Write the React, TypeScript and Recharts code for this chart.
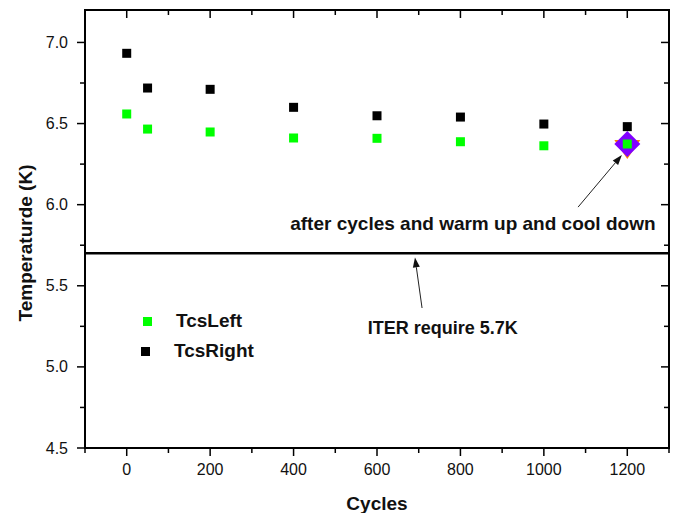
import React from "react";
import {
  ScatterChart, Scatter, XAxis, YAxis, ReferenceLine, ReferenceDot, ReferenceArea, Label
} from "recharts";

// cycles at which the temperatures were measured
const cycles = [0, 50, 200, 400, 600, 800, 1000, 1200];
const tcsLeft = [6.559, 6.466, 6.448, 6.411, 6.409, 6.388, 6.363, 6.374];
const tcsRight = [6.933, 6.719, 6.711, 6.6, 6.548, 6.54, 6.497, 6.481];

// measurement after warm up / cool down
const warmCycles = [1200];
const warmValues = [6.374];

const iterLimit = 5.7;

const xTicks = [-100, 0, 100, 200, 300, 400, 500, 600, 700, 800, 900, 1000, 1100, 1200, 1300];
const xLabels = [0, 200, 400, 600, 800, 1000, 1200];
const yTicks = [4.5, 4.75, 5.0, 5.25, 5.5, 5.75, 6.0, 6.25, 6.5, 6.75, 7.0];
const yLabels = [4.5, 5.0, 5.5, 6.0, 6.5, 7.0];

// annotation arrows: [tail, head] in data units
const arrowWarm = [{ x: 1082, y: 5.985 }, { x: 1187, y: 6.306 }];
const arrowIter = [{ x: 708, y: 5.363 }, { x: 691, y: 5.675 }];

const noteWarm = { x: 392, y: 5.881, text: "after cycles and warm up and cool down" };
const noteIter = { x: 578, y: 5.239, text: "ITER require 5.7K" };

const W = 676;
const H = 513;
const L = 85;
const T = 10;
const R = 669;
const B = 448;
const FONT = "Arial, 'Liberation Sans', sans-serif";

const leftData = cycles.map((c, i) => ({ x: c, y: tcsLeft[i] }));
const rightData = cycles.map((c, i) => ({ x: c, y: tcsRight[i] }));
const warmData = warmCycles.map((c, i) => ({ x: c, y: warmValues[i] }));

const Square = (color: string) => (p: any) => (
  <rect x={p.cx - 4.5} y={p.cy - 4.5} width={9} height={9} fill={color} />
);

const WarmMark = (p: any) => {
  const { cx, cy } = p;
  return (
    <g>
      <polygon points={`${cx - 13},${cy - 4} ${cx + 13},${cy - 4} ${cx},${cy + 15}`} fill="#ff8000" />
      <polygon points={`${cx},${cy - 13} ${cx + 13},${cy} ${cx},${cy + 13} ${cx - 13},${cy}`} fill="#8000ff" />
    </g>
  );
};

const Arrow = (p: any) => {
  const { x1, y1, x2, y2 } = p;
  const a = Math.atan2(y2 - y1, x2 - x1);
  const len = 10;
  const hw = 3.5;
  const bx = x2 - len * Math.cos(a);
  const by = y2 - len * Math.sin(a);
  const px = -Math.sin(a) * hw;
  const py = Math.cos(a) * hw;
  return (
    <g>
      <line x1={x1} y1={y1} x2={bx} y2={by} stroke="#222" strokeWidth={1} />
      <polygon points={`${x2},${y2} ${bx + px},${by + py} ${bx - px},${by - py}`} fill="#111" />
    </g>
  );
};

const note = (text: string, size: number) => (props: any) => {
  const vb = props.viewBox;
  return (
    <text x={vb.x} y={vb.y} dominantBaseline="central" fontFamily={FONT} fontSize={size}
      fontWeight="bold" fill="#111">{text}</text>
  );
};

// bottom ticks point out, the mirrored top ticks point in
const XTick = (p: any) => {
  const v = p.payload.value;
  const major = xLabels.includes(v);
  const len = major ? 8 : 5;
  return (
    <g>
      <line x1={p.x} y1={B} x2={p.x} y2={B + len} stroke="#000" strokeWidth={1.5} />
      <line x1={p.x} y1={T} x2={p.x} y2={T + len} stroke="#000" strokeWidth={1.5} />
      {major && (
        <text x={p.x} y={B + 21} textAnchor="middle" dominantBaseline="central"
          fontFamily={FONT} fontSize={16} fill="#111">{v}</text>
      )}
    </g>
  );
};

// left ticks point out, the mirrored right ticks point in
const YTick = (p: any) => {
  const v = p.payload.value;
  const major = yLabels.includes(v);
  const len = major ? 8 : 5;
  return (
    <g>
      <line x1={L} y1={p.y} x2={L - len} y2={p.y} stroke="#000" strokeWidth={1.5} />
      <line x1={R} y1={p.y} x2={R - len} y2={p.y} stroke="#000" strokeWidth={1.5} />
      {major && (
        <text x={L - 17} y={p.y} textAnchor="end" dominantBaseline="central"
          fontFamily={FONT} fontSize={16} fill="#111">{v.toFixed(1)}</text>
      )}
    </g>
  );
};

const legendItems = [
  { name: "TcsLeft", color: "#00ff00", top: 321, sq: 147, tx: 176 },
  { name: "TcsRight", color: "#000000", top: 351, sq: 145, tx: 174 },
];

export default function App() {
  return (
    <div style={{ position: "absolute", left: 0, top: 0, width: W, height: H, background: "#fff" }}>
      <ScatterChart width={W} height={H} margin={{ top: T, right: W - R, bottom: 0, left: 0 }}>
        <XAxis
          dataKey="x" type="number" domain={[-100, 1300]} ticks={xTicks} interval={0}
          height={H - B} axisLine={{ stroke: "#000", strokeWidth: 2 }} tickLine={false}
          tick={XTick}
          label={
            <Label content={(pr: any) => (
              <text x={pr.viewBox.x + pr.viewBox.width / 2} y={pr.viewBox.y + 55} textAnchor="middle"
                dominantBaseline="central" fontFamily={FONT} fontSize={19} fontWeight="bold" fill="#111">
                Cycles
              </text>
            )} />
          }
        />
        <YAxis
          dataKey="y" type="number" domain={[4.5, 7.2]} ticks={yTicks} interval={0}
          width={L} axisLine={{ stroke: "#000", strokeWidth: 2 }} tickLine={false}
          tick={YTick}
          label={
            <Label content={(pr: any) => {
              const cx = 25;
              const cy = pr.viewBox.y + pr.viewBox.height / 2 + 14;
              return (
                <text x={cx} y={cy} transform={`rotate(-90 ${cx} ${cy})`} textAnchor="middle"
                  dominantBaseline="central" fontFamily={FONT} fontSize={19} fontWeight="bold" fill="#111">
                  Temperaturde (K)
                </text>
              );
            }} />
          }
        />

        <ReferenceArea x1={-100} x2={1300} y1={4.5} y2={7.2} fill="none" fillOpacity={0}
          stroke="#000" strokeWidth={2} />
        <ReferenceLine y={iterLimit} stroke="#000" strokeWidth={2.5} />
        <ReferenceLine segment={arrowWarm} shape={Arrow} />
        <ReferenceLine segment={arrowIter} shape={Arrow} />
        <ReferenceDot x={noteWarm.x} y={noteWarm.y} r={0} stroke="none" fill="none">
          <Label content={note(noteWarm.text, 19)} />
        </ReferenceDot>
        <ReferenceDot x={noteIter.x} y={noteIter.y} r={0} stroke="none" fill="none">
          <Label content={note(noteIter.text, 18)} />
        </ReferenceDot>

        <Scatter name="Warm up" data={warmData} shape={WarmMark} isAnimationActive={false} />
        <Scatter name="TcsLeft" data={leftData} shape={Square("#00ff00")} isAnimationActive={false} />
        <Scatter name="TcsRight" data={rightData} shape={Square("#000000")} isAnimationActive={false} />
      </ScatterChart>

      {legendItems.map((it) => (
        <div key={it.name}>
          <div style={{
            position: "absolute", left: it.sq - 4.5, top: it.top - 4.5, width: 9, height: 9,
            background: it.color,
          }} />
          <div style={{
            position: "absolute", left: it.tx, top: it.top - 12, height: 24, lineHeight: "24px",
            fontFamily: FONT, fontSize: 19, fontWeight: "bold", color: "#111", whiteSpace: "nowrap",
          }}>{it.name}</div>
        </div>
      ))}
    </div>
  );
}
